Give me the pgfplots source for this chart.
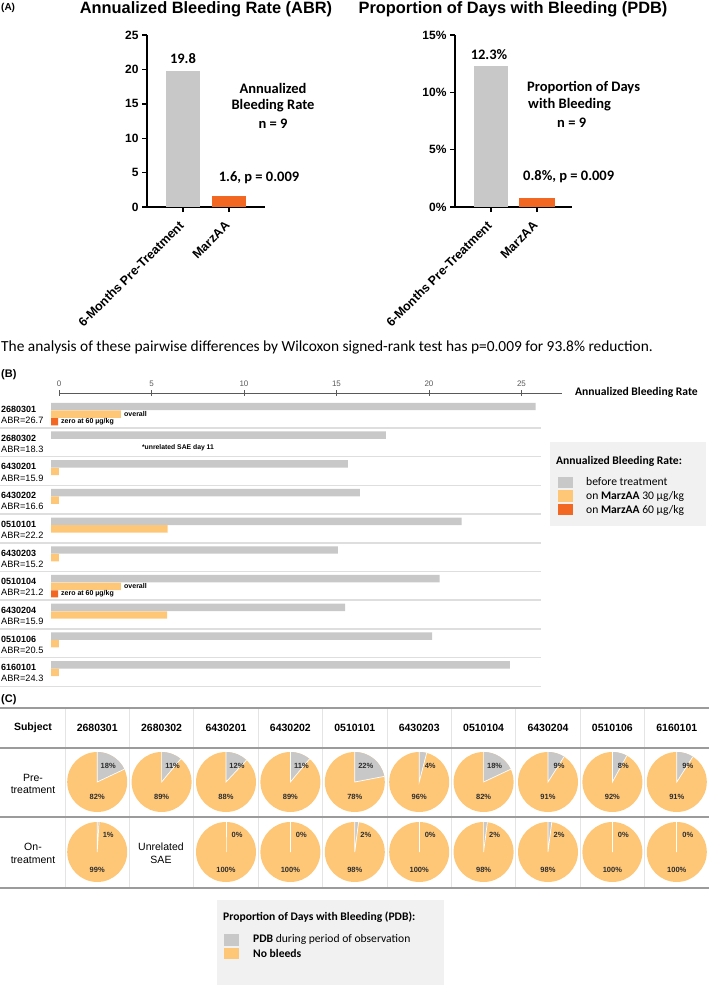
\documentclass[border=0pt]{standalone}
\usepackage{fontspec}
\setmainfont{Liberation Sans}
\newfontfamily\calfont{Carlito}
\usepackage{pgfplots}
\pgfplotsset{compat=1.18}
\definecolor{bgray}{RGB}{200,200,200}
\definecolor{dorange}{RGB}{242,103,34}
\definecolor{lorange}{RGB}{254,199,120}
\definecolor{boxgray}{RGB}{241,241,241}
\definecolor{sepgray}{RGB}{222,222,222}
\definecolor{linegray}{RGB}{155,155,155}
\definecolor{vgray}{RGB}{228,228,228}
\definecolor{txtgray}{RGB}{45,45,45}
\newcommand{\fs}[1]{\fontsize{#1bp}{#1bp}\selectfont}
\begin{document}
\begin{tikzpicture}
\useasboundingbox (0,0) rectangle (709bp,-985bp);

% ---------------- Panel A left: ABR
\begin{axis}[
  at={(147bp,-207bp)}, anchor=south west,
  scale only axis, width=118bp, height=172bp,
  xmin=-0.783, xmax=1.783, ymin=0, ymax=25,
  axis x line=bottom, axis y line=left,
  axis line style={-, line width=1.6bp},
  xtick={0,1}, xticklabels={6-Months Pre-Treatment, MarzAA},
  ytick={0,5,10,15,20,25}, minor tick num=0,
  tick align=outside, major tick length=5bp,
  tick style={line width=1.4bp, black},
  xticklabel style={xshift=1bp, yshift=-9bp, rotate=45, anchor=east, font=\bfseries\fs{12.5}},
  yticklabel style={font=\bfseries\fs{12}},
  /pgf/number format/assume math mode=true,
  clip=false,
]
\addplot[ybar, bar width=0.74, bar shift=0pt, fill=bgray, draw=none] coordinates {(0,19.8)};
\addplot[ybar, bar width=0.74, bar shift=0pt, fill=dorange, draw=none] coordinates {(1,1.6)};
\end{axis}

% ---------------- Panel A right: PDB
\begin{axis}[
  at={(455bp,-207bp)}, anchor=south west,
  scale only axis, width=117bp, height=172bp,
  xmin=-0.783, xmax=1.761, ymin=0, ymax=15,
  axis x line=bottom, axis y line=left,
  axis line style={-, line width=1.6bp},
  xtick={0,1}, xticklabels={6-Months Pre-Treatment, MarzAA},
  ytick={0,5,10,15}, minor tick num=0,
  yticklabel={\pgfmathprintnumber{\tick}\%},
  tick align=outside, major tick length=5bp,
  tick style={line width=1.4bp, black},
  xticklabel style={xshift=1bp, yshift=-9bp, rotate=45, anchor=east, font=\bfseries\fs{12.5}},
  yticklabel style={font=\bfseries\fs{12}},
  /pgf/number format/assume math mode=true,
  clip=false,
]
\addplot[ybar, bar width=0.74, bar shift=0pt, fill=bgray, draw=none] coordinates {(0,12.3)};
\addplot[ybar, bar width=0.78, bar shift=0pt, fill=dorange, draw=none] coordinates {(1,0.8)};
\end{axis}

% ---------------- Panel B: top scale
\begin{axis}[
  at={(59bp,-393bp)}, anchor=north west,
  scale only axis, width=503bp, height=5bp,
  xmin=0, xmax=27.19, ymin=0, ymax=1,
  axis x line*=top, axis y line=none,
  xtick={0,5,10,15,20,25}, ytick=\empty,
  tick align=center, major tick length=6bp,
  axis line style={-, line width=0.9bp, color=black!65},
  tick style={line width=0.9bp, color=black!65},
  xticklabel style={font=\fs{8}, text=black!65},
  /pgf/number format/assume math mode=true,
]
\end{axis}

% ---------------- Panel B: bars
\begin{axis}[
  at={(0bp,-399bp)}, anchor=north west,
  scale only axis, width=541bp, height=288bp,
  xmin=-2.757, xmax=26.486, ymin=-0.261, ymax=9.774, y dir=reverse,
  axis line style={draw=none},
  xtick=\empty, ytick={0.75,1.75,2.75,3.75,4.75,5.75,6.75,7.75,8.75,9.75}, yticklabels={},
  major tick length=0pt,
  ymajorgrids, grid style={line width=1.5bp, sepgray},
  clip=false,
]
\addplot[xbar, bar width=0.26, bar shift=0pt, fill=bgray, draw=none] coordinates {
 (26.2,0) (18.1,1) (16.05,2) (16.7,3) (22.2,4) (15.5,5) (21.0,6) (15.9,7) (20.6,8) (24.8,9)};
\addplot[xbar, bar width=0.26, bar shift=0pt, fill=lorange, draw=none] coordinates {
 (3.78,0.265) (0.43,2.265) (0.43,3.265) (6.3,4.265) (0.43,5.265) (3.78,6.265) (6.27,7.265) (0.43,8.265) (0.43,9.265)};
\addplot[xbar, bar width=0.25, bar shift=0pt, fill=dorange, draw=none] coordinates {(0.38,0.53) (0.38,6.53)};
\end{axis}

\begin{scope}[x=1bp,y=-1bp]
% ---- Panel A texts
\node[font=\bfseries\fs{10}, anchor=west, inner sep=0] at (1,7.5) {(A)};
\node[font=\bfseries\fs{16.4}, inner sep=0] at (206,9) {Annualized Bleeding Rate (ABR)};
\node[font=\bfseries\fs{16.4}, inner sep=0] at (513,9) {Proportion of Days with Bleeding (PDB)};
\begin{scope}[every node/.style={font=\calfont\bfseries\fs{14.5}, inner sep=0}]
\node at (183,59) {19.8};
\node at (273,88) {Annualized};
\node at (273,106) {Bleeding Rate};
\node at (273,124) {n = 9};
\node at (259,178) {1.6, p = 0.009};
\node at (489,55) {12.3\%};
\node[anchor=west] at (527,88) {Proportion of Days};
\node[anchor=west] at (528,105) {with Bleeding};
\node[anchor=west] at (557,123) {n = 9};
\node[anchor=west] at (523,177) {0.8\%, p = 0.009};
\end{scope}
\node[font=\calfont\fs{15.4}, anchor=west, inner sep=0] at (1,347) {The analysis of these pairwise differences by Wilcoxon signed-rank test has p=0.009 for 93.8\% reduction.};

% ---- Panel B texts
\node[font=\bfseries\fs{11}, anchor=west, inner sep=0] at (1,375) {(B)};
\node[font=\calfont\bfseries\fs{11.6}, anchor=west, inner sep=0] at (575,392) {Annualized Bleeding Rate};
\foreach \id/\abr [count=\i from 0] in {2680301/26.7,2680302/18.3,6430201/15.9,6430202/16.6,0510101/22.2,6430203/15.2,0510104/21.2,6430204/15.9,0510106/20.5,6160101/24.3}{
  \node[anchor=west, inner sep=0, font=\bfseries\fs{9}] at (1,{409.5+28.7*\i}) {\id};
  \node[anchor=west, inner sep=0, font=\fs{9.2}] at (1,{420.5+28.7*\i}) {ABR=\abr};
}
\foreach \r in {0,6}{
  \node[anchor=west, inner sep=0, font=\bfseries\fs{7}] at (124,{414+28.7*\r}) {overall};
  \node[anchor=west, inner sep=0, font=\bfseries\fs{7}] at (61,{421.5+28.7*\r}) {zero at 60 µg/kg};
}
\node[inner sep=0, font=\bfseries\fs{6.8}] at (178,448) {*unrelated SAE day 11};

% ---- Panel B legend
\fill[boxgray] (550,442) rectangle (706,526);
\node[anchor=west, inner sep=0, font=\calfont\bfseries\fs{11.6}] at (556,461) {Annualized Bleeding Rate:};
\fill[bgray] (558,477) rectangle (573,488);
\fill[lorange] (558,490) rectangle (573,501.5);
\fill[dorange] (558,503.5) rectangle (573,515);
\begin{scope}[every node/.style={anchor=west, inner sep=0, font=\calfont\fs{11.6}}]
\node at (586,482) {before treatment};
\node at (586,496) {on \textbf{MarzAA} 30 µg/kg};
\node at (586,510) {on \textbf{MarzAA} 60 µg/kg};
\end{scope}

% ---- Panel C table
\node[font=\bfseries\fs{11}, anchor=west, inner sep=0] at (1,700) {(C)};
\foreach \k in {0,...,9}{
  \draw[vgray, line width=1bp] ({65+64.4*\k},708) -- ({65+64.4*\k},888);
}
\foreach \yy in {708,748,817,888}{
  \draw[linegray, line width=1.5bp] (0,\yy) -- (709,\yy);
}
\node[font=\bfseries\fs{10.5}, inner sep=0] at (33,728) {Subject};
\foreach \id [count=\j from 0] in {2680301,2680302,6430201,6430202,0510101,6430203,0510104,6430204,0510106,6160101}{
  \node[font=\bfseries\fs{10.5}, inner sep=0] at ({97.2+64.4*\j},728) {\id};
}
\begin{scope}[every node/.style={inner sep=0, font=\fs{10.5}}]
\node at (33,778) {Pre-};
\node at (33,790) {treatment};
\node at (33,847) {On-};
\node at (33,860) {treatment};
\node at (161,847) {Unrelated};
\node at (161,860) {SAE};
\end{scope}
% pre-treatment pies
\foreach \p [count=\j from 0] in {18,11,12,11,22,4,18,9,8,9}{
  \begin{scope}[shift={({97.2+64.4*\j},782)}, x=1bp, y=1bp]
    \fill[lorange] (0,0) circle[radius=30];
    \fill[bgray] (0,0) -- (90:30) arc[start angle=90, end angle={90-3.6*\p}, radius=30] -- cycle;
    \draw[white, line width=0.7bp] (90:30) -- (0,0) -- ({90-3.6*\p}:30);
    \pgfmathtruncatemacro{\q}{100-\p}
    \node[font=\bfseries\fs{7.5}, text=txtgray, inner sep=0] at (11,16) {\p\%};
    \node[font=\bfseries\fs{7.5}, text=txtgray, inner sep=0] at (0,-15) {\q\%};
  \end{scope}
}
% on-treatment pies
\foreach \p [count=\j from 0] in {1,-1,0,0,2,0,2,2,0,0}{
  \ifnum\p<0\relax\else
  \begin{scope}[shift={({97.2+64.4*\j},852)}, x=1bp, y=1bp]
    \fill[lorange] (0,0) circle[radius=30];
    \fill[bgray] (0,0) -- (90:30) arc[start angle=90, end angle={90-3.6*\p}, radius=30] -- cycle;
    \draw[white, line width=0.7bp] (90:30) -- (0,0) -- ({90-3.6*\p}:30);
    \pgfmathtruncatemacro{\q}{100-\p}
    \node[font=\bfseries\fs{7.5}, text=txtgray, inner sep=0] at (11,17) {\p\%};
    \node[font=\bfseries\fs{7.5}, text=txtgray, inner sep=0] at (0,-18) {\q\%};
  \end{scope}
  \fi
}
% ---- Panel C legend
\fill[boxgray] (217,900) rectangle (444,985);
\node[anchor=west, inner sep=0, font=\calfont\bfseries\fs{11.6}] at (223,917) {Proportion of Days with Bleeding (PDB):};
\fill[bgray] (224,934) rectangle (239,946);
\fill[lorange] (224,948) rectangle (239,959);
\node[anchor=west, inner sep=0, font=\calfont\fs{11.6}] at (253,939.5) {\textbf{PDB} during period of observation};
\node[anchor=west, inner sep=0, font=\calfont\bfseries\fs{11.6}] at (253,953.5) {No bleeds};
\end{scope}
\end{tikzpicture}
\end{document}
